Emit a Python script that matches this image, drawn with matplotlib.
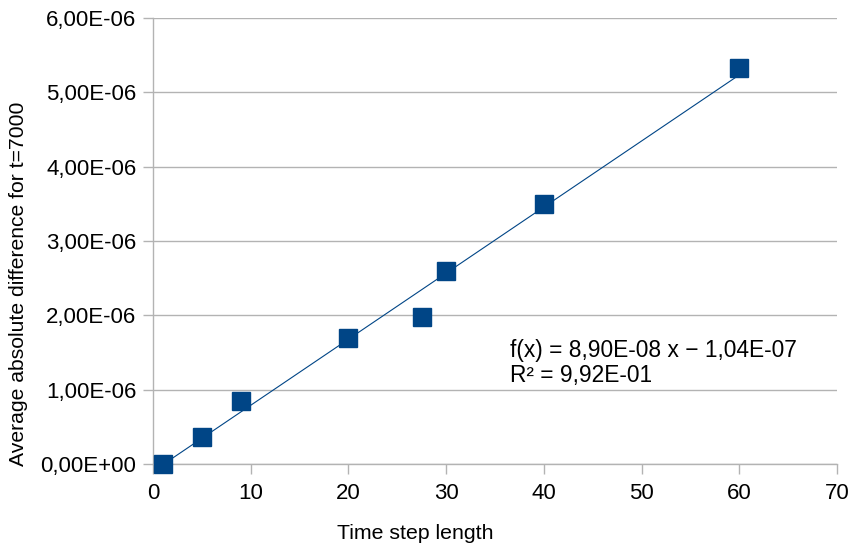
import numpy as np
import matplotlib
matplotlib.use("Agg")
import matplotlib.pyplot as plt
from matplotlib.ticker import FuncFormatter

# --- Data
step_length = [1, 5, 9, 20, 27.5, 30, 40, 60]
avg_abs_diff = [0.0, 3.7e-7, 8.5e-7, 1.70e-6, 1.98e-6, 2.59e-6, 3.50e-6, 5.33e-6]

x_ticks = [0, 10, 20, 30, 40, 50, 60, 70]
y_ticks = [0, 1e-6, 2e-6, 3e-6, 4e-6, 5e-6, 6e-6]
fit_text = "f(x) = 8,90E-08 x \u2212 1,04E-07\nR\u00b2 = 9,92E-01"

plt.rcParams["font.family"] = ["Liberation Sans", "DejaVu Sans"]

blue = "#004586"
grey = "#b3b3b3"

fig = plt.figure(figsize=(8.5, 5.52), dpi=100)
ax = fig.add_axes([0.18, 0.1594, 0.8047, 0.808])

# Linear trend line over the data range
slope, intercept = np.polyfit(step_length, avg_abs_diff, 1)
xs = np.array([min(step_length), max(step_length)])
ax.plot(xs, slope * xs + intercept, color=blue, linewidth=0.8, zorder=2)

ax.plot(step_length, avg_abs_diff, linestyle="none", marker="s",
        markersize=12.5, color=blue, zorder=3, clip_on=False)

ax.text(36.5, 1.36e-6, fit_text, fontsize=16.4, linespacing=1.1,
        va="center", ha="left", color="black")

ax.set_xlim(0, 70)
ax.set_ylim(0, 6e-6)
ax.set_xticks(x_ticks)
ax.set_yticks(y_ticks)

def sci_comma(v, pos):
    if v == 0:
        return "0,00E+00"
    s = f"{v:.2E}"
    return s.replace(".", ",")

ax.yaxis.set_major_formatter(FuncFormatter(sci_comma))

ax.grid(True, axis="y", color=grey, linewidth=1.0, zorder=0)
ax.set_axisbelow(True)
for side in ["top", "right"]:
    ax.spines[side].set_visible(False)
for side in ["left", "bottom"]:
    ax.spines[side].set_color(grey)
    ax.spines[side].set_linewidth(1.0)

ax.tick_params(axis="both", direction="out", length=7, width=1.0,
               color=grey, labelsize=16, pad=5)
ax.tick_params(axis="x", pad=7)

ax.set_xlabel("Time step length", fontsize=15.3)
ax.set_ylabel("Average absolute difference for t=7000", fontsize=15.2)
ax.xaxis.set_label_coords(0.383, -0.1345)
ax.yaxis.set_label_coords(-0.183, 0.403)

plt.savefig("out.png", dpi=100)
plt.close()
